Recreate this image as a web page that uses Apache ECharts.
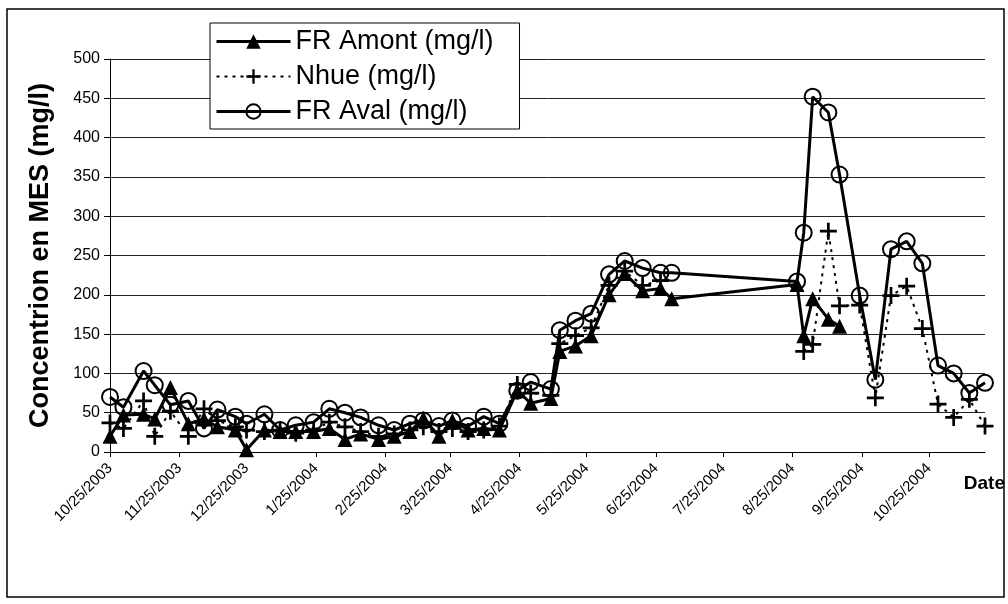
<!DOCTYPE html>
<html>
<head>
<meta charset="utf-8">
<title>Concentration en MES</title>
<script src="https://cdn.jsdelivr.net/npm/echarts@6/dist/echarts.min.js"></script>
<style>
  html, body { margin: 0; padding: 0; background: #fff; }
  #chart { width: 1008px; height: 604px; }
</style>
</head>
<body>
<div id="chart"></div>
<script>
// dates de prélèvement
const sampleDates = [
  '2003-10-25', '2003-10-31', '2003-11-09', '2003-11-14', '2003-11-21', '2003-11-29',
  '2003-12-06', '2003-12-12', '2003-12-20', '2003-12-25', '2004-01-02', '2004-01-09',
  '2004-01-16', '2004-01-24', '2004-01-31', '2004-02-07', '2004-02-14', '2004-02-22',
  '2004-02-29', '2004-03-07', '2004-03-13', '2004-03-20', '2004-03-26', '2004-04-02',
  '2004-04-09', '2004-04-16', '2004-04-24', '2004-04-30', '2004-05-09', '2004-05-13',
  '2004-05-20', '2004-05-27', '2004-06-04', '2004-06-11', '2004-06-19', '2004-06-27',
  '2004-07-02', '2004-08-27', '2004-08-30', '2004-09-03', '2004-09-10', '2004-09-15',
  '2004-09-24', '2004-10-01', '2004-10-08', '2004-10-15', '2004-10-22', '2004-10-29',
  '2004-11-05', '2004-11-12', '2004-11-19'
]
const frAmont = [
  20, 47, 48, 42, 82, 36, 42, 32, 28, 3, 28, 26,
  26, 26, 30, 16, 23, 16, 20, 26, 43, 20, 40, 28,
  30, 28, 78, 62, 68, 128, 135, 148, 200, 227, 205, 208,
  195, 213, 148, 195, 169, 160,
  null, null, null, null, null, null, null, null, null
]
const nhue = [
  37, 30, 65, 20, 52, 20, 55, 40, 32, 28, 26, 28,
  24, 28, 38, 32, 26, 20, 23, 28, 32, 26, 30, 26,
  28, 33, 86, 75, 72, 138, 148, 158, 212, 230, 212, 218,
  null, null, 128, 137, 281, 186,
  187, 69, 199, 211, 157, 61, 44, 67, 33
]
const frAval = [
  70, 57, 103, 85, 60, 65, 30, 54, 45, 36, 48, 28,
  34, 38, 55, 50, 44, 34, 28, 36, 40, 33, 40, 33,
  45, 36, 78, 89, 80, 155, 167, 176, 226, 243, 234, 228,
  228, 217, 279, 452, 432, 353,
  199, 92, 258, 268, 240, 110, 100, 75, 88
]
const tickLabels = [
  '10/25/2003', '11/25/2003', '12/25/2003', '1/25/2004', '2/25/2004', '3/25/2004',
  '4/25/2004', '5/25/2004', '6/25/2004', '7/25/2004', '8/25/2004', '9/25/2004', '10/25/2004'
]

const chart = echarts.init(document.getElementById('chart'))

const toTime = (s) => {
  let y, m, d
  if (s.indexOf('/') > 0) {
    [m, d, y] = s.split('/').map(Number)
  } else {
    [y, m, d] = s.split('-').map(Number)
  }
  return new Date(y, m - 1, d).getTime()
}
const tickTimes = tickLabels.map(toTime)
const sampleTimes = sampleDates.map(toTime)
const pairs = (values) => sampleTimes.map((t, i) => [t, values[i]])

// croix pour Nhue
const plusPath = 'path://M4.2,0H5.8V4.2H10V5.8H5.8V10H4.2V5.8H0V4.2H4.2Z'
const font = '"Liberation Sans", Arial, sans-serif'

const option = {
  animation: false,
  backgroundColor: '#fff',
  grid: { left: 110, right: 23, top: 59, bottom: 152 },
  legend: {
    orient: 'vertical',
    left: 210,
    top: 23,
    itemWidth: 74,
    itemHeight: 18,
    itemGap: 8,
    padding: [5, 26, 4, 5],
    borderColor: '#000',
    borderWidth: 1,
    backgroundColor: '#fff',
    lineStyle: { width: 3 },
    textStyle: { fontFamily: font, fontSize: 27, color: '#000' },
    data: [
      { name: 'FR Amont (mg/l)' },
      { name: 'Nhue (mg/l)', lineStyle: { width: 2 } },
      { name: 'FR Aval (mg/l)' }
    ]
  },
  xAxis: {
    // axe en millisecondes, graduations le 25 de chaque mois
    type: 'value',
    min: sampleTimes[0],
    max: sampleTimes[sampleTimes.length - 1],
    name: 'Date',
    nameLocation: 'end',
    nameGap: 20,
    nameTextStyle: {
      fontFamily: font, fontSize: 19, fontWeight: 'bold', color: '#000',
      align: 'right', verticalAlign: 'top', padding: [22, 0, 0, 0]
    },
    axisLine: { lineStyle: { color: '#000', width: 1 } },
    axisTick: { show: true, length: 5, customValues: tickTimes, lineStyle: { color: '#000' } },
    axisLabel: {
      customValues: tickTimes,
      rotate: 45,
      margin: 14,
      hideOverlap: false,
      showMinLabel: true,
      showMaxLabel: true,
      fontFamily: font,
      fontSize: 15,
      color: '#000',
      formatter: (val) => {
        const i = tickTimes.indexOf(val)
        return i >= 0 ? tickLabels[i] : ''
      }
    },
    splitLine: { show: false }
  },
  yAxis: {
    type: 'value',
    min: 0,
    max: 500,
    interval: 50,
    name: 'Concentrion en MES (mg/l)',
    nameLocation: 'middle',
    nameGap: 56,
    nameTextStyle: { fontFamily: font, fontSize: 27, fontWeight: 'bold', color: '#000' },
    axisLine: { show: true, lineStyle: { color: '#000', width: 1 } },
    axisTick: { show: true, length: 6, lineStyle: { color: '#000' } },
    axisLabel: { fontFamily: font, fontSize: 16, color: '#000', margin: 10 },
    splitLine: { show: true, lineStyle: { color: '#222', width: 1 } }
  },
  series: [
    {
      name: 'FR Amont (mg/l)',
      type: 'line',
      data: pairs(frAmont),
      symbol: 'triangle',
      symbolSize: 15,
      itemStyle: { color: '#000' },
      lineStyle: { color: '#000', width: 3 },
      emphasis: { disabled: true }
    },
    {
      name: 'Nhue (mg/l)',
      type: 'line',
      data: pairs(nhue),
      symbol: plusPath,
      symbolSize: 17,
      itemStyle: { color: '#000' },
      lineStyle: { color: '#000', width: 2, type: [3, 5] },
      emphasis: { disabled: true }
    },
    {
      name: 'FR Aval (mg/l)',
      type: 'line',
      data: pairs(frAval),
      symbol: 'circle',
      symbolSize: 16,
      itemStyle: { color: 'rgba(0,0,0,0)', borderColor: '#000', borderWidth: 2 },
      lineStyle: { color: '#000', width: 3 },
      emphasis: { disabled: true }
    }
  ],
  graphic: [
    {
      type: 'rect',
      shape: { x: 7, y: 9, width: 997, height: 588 },
      style: { fill: 'none', stroke: '#000', lineWidth: 1.5 },
      silent: true,
      z: -1
    }
  ]
}

chart.setOption(option)
</script>
</body>
</html>
